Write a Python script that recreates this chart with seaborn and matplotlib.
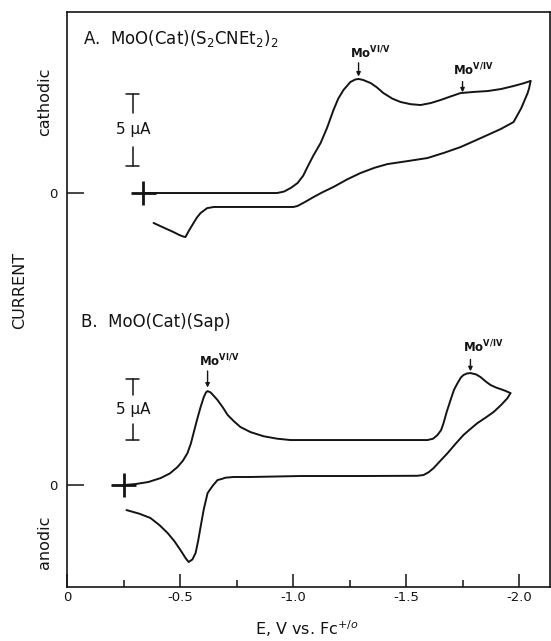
import numpy as np
import pandas as pd
import matplotlib
matplotlib.use("Agg")
import matplotlib.pyplot as plt
import seaborn as sns

# ---------------- data (E in V vs Fc+/o, I in microamps, cathodic positive) -------------
a_fwd_E = [-0.338, -0.60, -0.93, -0.96, -0.99, -1.02, -1.045, -1.064, -1.09, -1.122, -1.15,
           -1.179, -1.20, -1.223, -1.254, -1.275, -1.290, -1.31, -1.343, -1.37, -1.400, -1.44,
           -1.476, -1.52, -1.564, -1.61, -1.653, -1.70, -1.741, -1.80, -1.861, -1.92, -1.976,
           -2.02, -2.051]
a_fwd_I = [0.0, 0.0, 0.0, 0.10, 0.35, 0.69, 1.2, 1.81, 2.6, 3.47, 4.5,
           5.76, 6.55, 7.15, 7.71, 7.88, 7.92, 7.85, 7.64, 7.35, 6.94, 6.55,
           6.32, 6.17, 6.11, 6.25, 6.46, 6.72, 6.94, 7.02, 7.08, 7.22, 7.43,
           7.62, 7.78]
a_ret_E = [-2.051, -2.045, -2.038, -2.01, -1.976, -1.92, -1.861, -1.80, -1.741, -1.67, -1.595,
           -1.50, -1.418, -1.36, -1.299, -1.24, -1.179, -1.13, -1.091, -1.05, -1.020, -1.002,
           -0.80, -0.650, -0.62, -0.591, -0.575, -0.560, -0.54, -0.524, -0.51, -0.495, -0.471,
           -0.43, -0.383]
a_ret_I = [7.78, 7.3, 6.94, 5.9, 4.93, 4.45, 4.03, 3.6, 3.19, 2.8, 2.43,
           2.2, 2.01, 1.75, 1.39, 0.95, 0.42, 0.05, -0.28, -0.65, -0.90, -0.97,
           -0.97, -0.97, -1.05, -1.39, -1.7, -2.08, -2.6, -3.06, -3.0, -2.9, -2.71,
           -2.42, -2.08]

b_fwd_E = [-0.250, -0.303, -0.36, -0.414, -0.455, -0.489, -0.513, -0.533, -0.548, -0.560,
           -0.576, -0.591, -0.605, -0.615, -0.622, -0.635, -0.650, -0.666, -0.69, -0.711,
           -0.74, -0.768, -0.812, -0.87, -0.93, -0.989, -1.3, -1.595, -1.62, -1.639, -1.655,
           -1.666, -1.68, -1.697, -1.712, -1.728, -1.742, -1.754, -1.77, -1.785, -1.81, -1.830,
           -1.852, -1.874, -1.90, -1.918, -1.94, -1.962]
b_fwd_I = [0.0, 0.08, 0.25, 0.57, 0.95, 1.48, 2.0, 2.62, 3.4, 4.26,
           5.4, 6.39, 7.2, 7.6, 7.70, 7.6, 7.3, 6.97, 6.35, 5.74,
           5.2, 4.75, 4.34, 4.0, 3.8, 3.69, 3.69, 3.69, 3.8, 4.10, 4.5,
           5.08, 6.0, 6.97, 7.8, 8.36, 8.8, 9.02, 9.15, 9.18, 9.07, 8.85,
           8.5, 8.20, 7.98, 7.87, 7.72, 7.54]
b_ret_E = [-1.962, -1.949, -1.92, -1.887, -1.85, -1.816, -1.785, -1.754, -1.72, -1.684,
           -1.65, -1.622, -1.60, -1.577, -1.55, -1.3, -1.033, -0.812, -0.737, -0.70, -0.685,
           -0.666, -0.645, -0.622, -0.605, -0.591, -0.580, -0.569, -0.555, -0.538, -0.525,
           -0.502, -0.475, -0.445, -0.41, -0.369, -0.32, -0.263]
b_ret_I = [7.54, 7.13, 6.55, 5.98, 5.5, 5.08, 4.6, 4.10, 3.4, 2.62,
           1.95, 1.39, 1.05, 0.82, 0.76, 0.74, 0.74, 0.66, 0.66, 0.6, 0.5,
           0.41, -0.05, -0.66, -2.0, -3.44, -4.6, -5.57, -6.1, -6.31, -6.0,
           -5.33, -4.6, -3.93, -3.3, -2.70, -2.35, -2.05]

x_ticks = [0, -0.5, -1.0, -1.5, -2.0]
x_tick_labels = ["0", "-0.5", "-1.0", "-1.5", "-2.0"]
x_minor_ticks = [-0.25, -0.75, -1.25, -1.75]

titles = ["A.  MoO(Cat)(S$_2$CNEt$_2$)$_2$", "B.  MoO(Cat)(Sap)"]
start_E = [-0.338, -0.250]          # initial potential (cross marks)
scale_bar_uA = 5

# ---------------- layout (vertical placement of the two traces) --------------------------
Y_TOP = 39.93
offset = {"A": 27.36, "B": 7.08}
gain = {"A": 1.0, "B": 0.847}

sns.set_theme(style="white")
plt.rcParams["font.family"] = ["DejaVu Sans"]
plt.rcParams["axes.unicode_minus"] = False
INK = "#141414"

rows = []
for panel, branch, E, I in [("A", "fwd", a_fwd_E, a_fwd_I), ("A", "ret", a_ret_E, a_ret_I),
                            ("B", "fwd", b_fwd_E, b_fwd_I), ("B", "ret", b_ret_E, b_ret_I)]:
    for e, i in zip(E, I):
        rows.append({"panel": panel, "seg": panel + branch, "E": e,
                     "y": offset[panel] + gain[panel] * i})
df = pd.DataFrame(rows)

fig = plt.figure(figsize=(5.51, 6.41), dpi=100)
ax = fig.add_axes([67 / 551, 54 / 641, 483 / 551, 575 / 641])
sns.lineplot(data=df, x="E", y="y", units="seg", estimator=None, sort=False,
             color=INK, lw=1.4, ax=ax, legend=False)

ax.set_xlim(0, -2.137)
ax.set_ylim(0, Y_TOP)
ax.set_xlabel("")
ax.set_ylabel("")
for s in ax.spines.values():
    s.set_visible(True)
    s.set_color(INK)
    s.set_linewidth(1.2)

ax.set_xticks(x_ticks)
ax.set_xticklabels(x_tick_labels)
ax.set_xticks(x_minor_ticks, minor=True)
ax.tick_params(axis="x", which="major", direction="in", length=9.5, width=1.1,
               color=INK, labelsize=9.5, pad=3, labelcolor=INK, bottom=True)
ax.tick_params(axis="x", which="minor", direction="in", length=5, width=1.1,
               color=INK, bottom=True)
ax.set_yticks([offset["B"], offset["A"]])
ax.set_yticklabels(["0", "0"])
ax.tick_params(axis="y", which="major", direction="in", length=12, width=1.1,
               color=INK, labelsize=9.5, pad=7, labelcolor=INK, left=True)

# cross marks at initial potential
for p, e0 in zip(["A", "B"], start_E):
    y0 = offset[p]
    ax.plot([e0 + 0.057, e0 - 0.057], [y0, y0], color=INK, lw=2.0, solid_capstyle="butt")
    ax.plot([e0, e0], [y0 - 0.85, y0 + 0.85], color=INK, lw=2.0, solid_capstyle="butt")

# scale bars
bar_E = -0.290
cap = 0.029
for p, bottom in [("A", 29.24), ("B", 10.21)]:
    L = scale_bar_uA * gain[p]
    top = bottom + L
    mid = bottom + L / 2
    gap = 0.24 * L
    ax.plot([bar_E, bar_E], [top, mid + gap], color=INK, lw=1.1)
    ax.plot([bar_E, bar_E], [mid - gap, bottom], color=INK, lw=1.1)
    ax.plot([bar_E - cap, bar_E + cap], [top, top], color=INK, lw=1.1)
    ax.plot([bar_E - cap, bar_E + cap], [bottom, bottom], color=INK, lw=1.1)
    ax.text(bar_E - 0.005, mid, "5 \u00b5A", ha="center", va="center", fontsize=11, color=INK)

# panel titles
ax.text(-0.073, 37.71, titles[0], ha="left", va="baseline", fontsize=12, color=INK)
ax.text(-0.060, 18.06, titles[1], ha="left", va="baseline", fontsize=12, color=INK)

# peak annotations
annots = [  # (text left E, text baseline y, arrow E, arrow tail y, arrow tip y, label)
    (-1.254, 36.74, -1.290, 36.40, 35.45, "VI/V"),
    (-1.710, 35.56, -1.750, 35.10, 34.35, "V/IV"),
    (-0.586, 15.35, -0.622, 15.00, 13.85, "VI/V"),
    (-1.752, 16.32, -1.785, 15.80, 14.98, "V/IV"),
]
for tx, ty, axx, y1, y2, lab in annots:
    ax.text(tx, ty, "Mo$^{\\mathbf{" + lab + "}}$", ha="left", va="baseline",
            fontsize=8.5, fontweight="bold", color=INK)
    ax.annotate("", xy=(axx, y2), xytext=(axx, y1),
                arrowprops=dict(arrowstyle="-|>", lw=1.0, color=INK, mutation_scale=6,
                                shrinkA=0, shrinkB=0))

# side labels
fig.text(45 / 551, 1 - 102 / 641, "cathodic", rotation=90, ha="center", va="center",
         fontsize=11.5, color=INK)
fig.text(20 / 551, 1 - 290 / 641, "CURRENT", rotation=90, ha="center", va="center",
         fontsize=11.5, color=INK)
fig.text(45 / 551, 1 - 542 / 641, "anodic", rotation=90, ha="center", va="center",
         fontsize=11.5, color=INK)
fig.text(307 / 551, 1 - 635 / 641, "E, V vs. Fc$^{+/o}$", ha="center", va="baseline",
         fontsize=11.5, color=INK)

fig.savefig("out.png", dpi=100, facecolor="white")
